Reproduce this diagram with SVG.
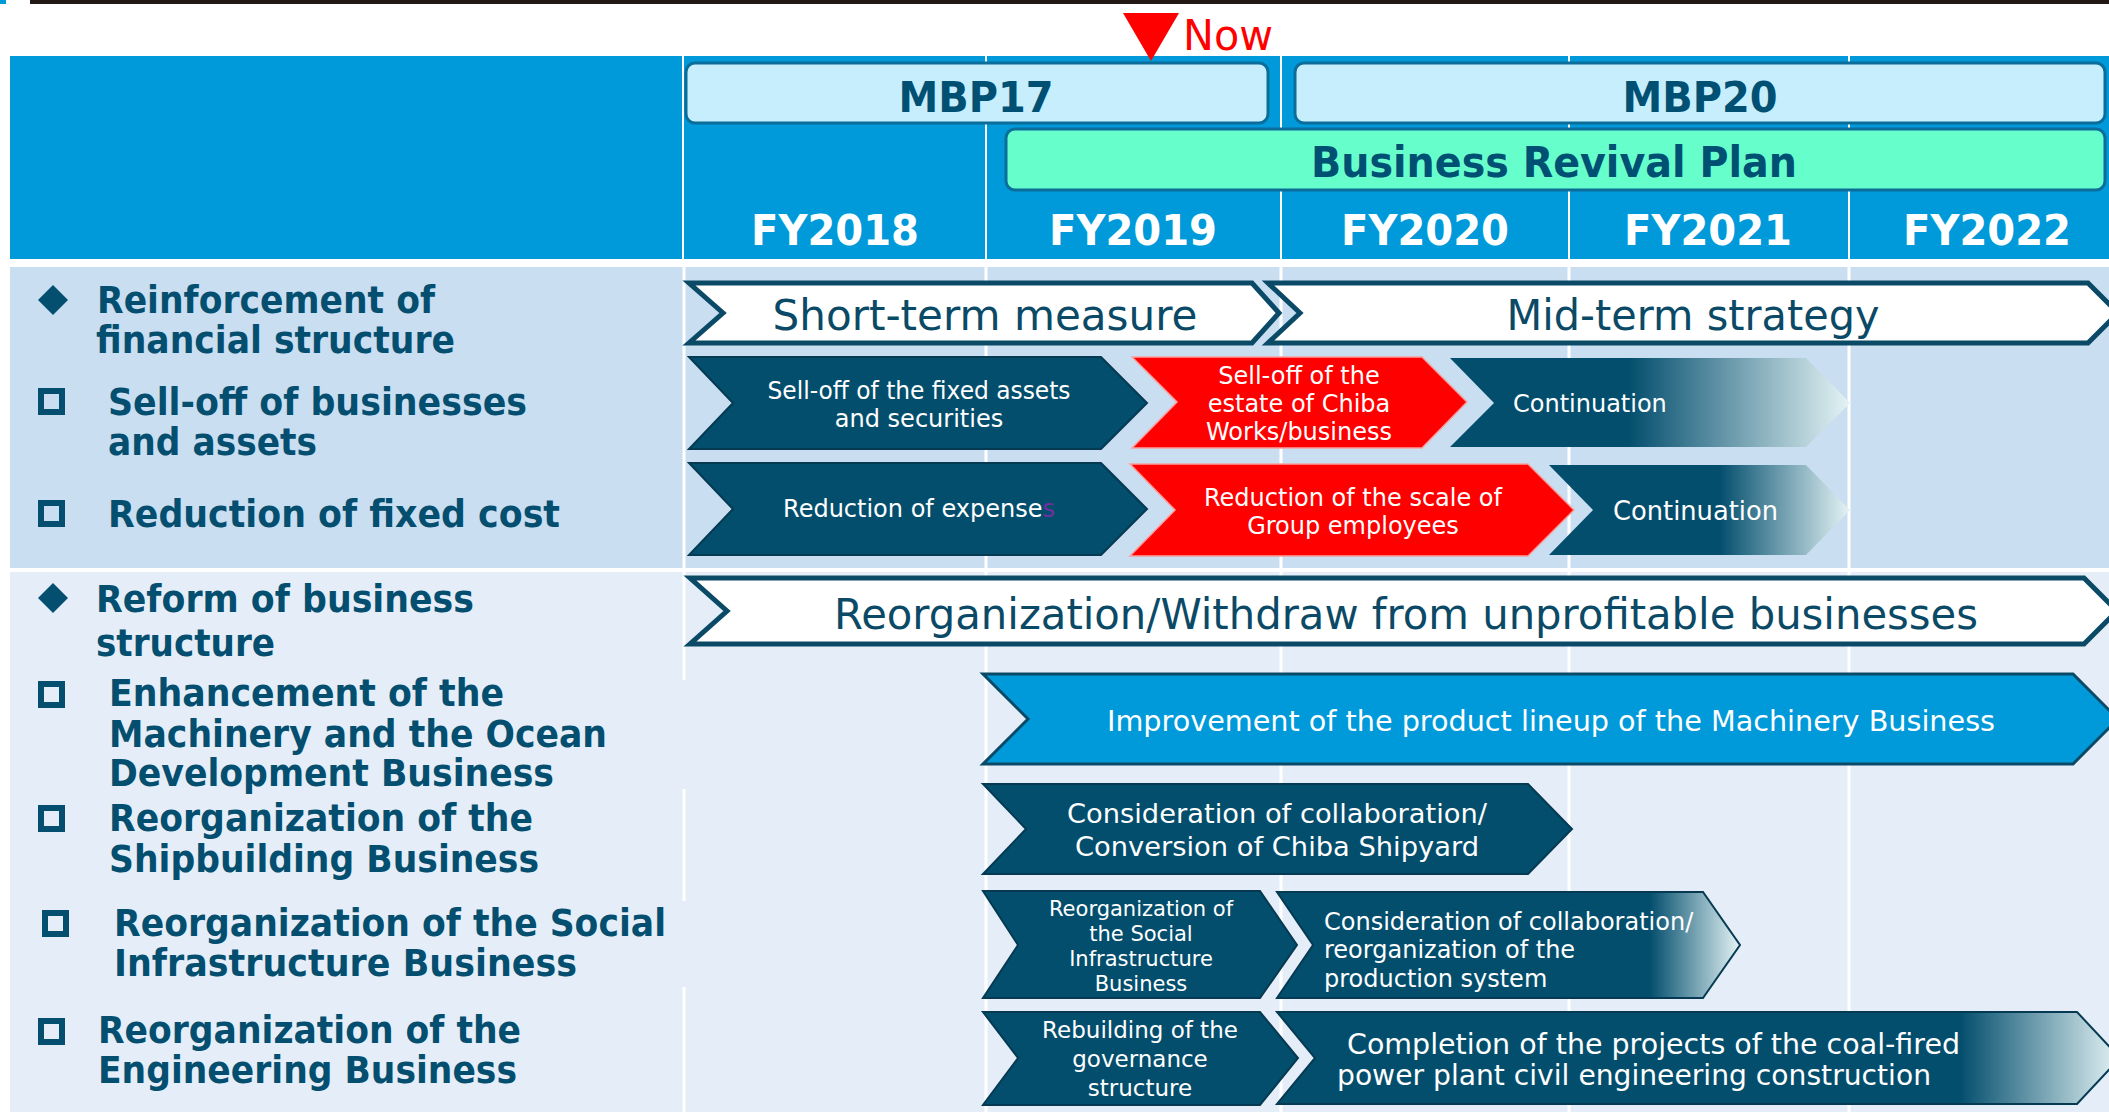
<svg xmlns="http://www.w3.org/2000/svg" width="2109" height="1112" viewBox="0 0 2109 1112">
<defs>
<style>
.hdr{font-family:"DejaVu Sans","Noto Sans",sans-serif;font-weight:bold;font-size:43px;text-anchor:middle}
.fy{fill:#ffffff}
.plan{fill:#005073}
.lbl{font-family:"DejaVu Sans","Noto Sans",sans-serif;font-weight:bold;font-size:37px;fill:#044f70}
.big{font-family:"DejaVu Sans","Noto Sans",sans-serif;font-size:42px;fill:#0b4a66;text-anchor:middle}
.wt{font-family:"DejaVu Sans","Noto Sans",sans-serif;fill:#ffffff}
.mid{text-anchor:middle}
.grid{stroke:#ffffff;stroke-width:3}
.hgrid{stroke:#ffffff;stroke-width:2}
.wchev{fill:#ffffff;stroke:#0b4a66;stroke-width:5;stroke-linejoin:miter}
.dchev{fill:#034e6d;stroke:#063a52;stroke-width:2}
.rchev{fill:#ff0000;stroke:#f7a0a0;stroke-width:1.5}
.bchev{fill:#009ada;stroke:#0b4a66;stroke-width:3}
.box{stroke:#0b6d9a;stroke-width:3}
.sq{fill:none;stroke:#044f70;stroke-width:6}
.dia{fill:#044f70}
</style>
<linearGradient id="gC1" gradientUnits="userSpaceOnUse" x1="1450" y1="0" x2="1850" y2="0">
<stop offset="0.445" stop-color="#034e6d"/><stop offset="1" stop-color="#e4f3f5"/></linearGradient>
<linearGradient id="gC2" gradientUnits="userSpaceOnUse" x1="1549" y1="0" x2="1850" y2="0">
<stop offset="0.565" stop-color="#034e6d"/><stop offset="1" stop-color="#e4f3f5"/></linearGradient>
<linearGradient id="gP" gradientUnits="userSpaceOnUse" x1="1277" y1="0" x2="1740" y2="0">
<stop offset="0.805" stop-color="#034e6d"/><stop offset="1" stop-color="#e4f3f5"/></linearGradient>
<linearGradient id="gE" gradientUnits="userSpaceOnUse" x1="1277" y1="0" x2="2120" y2="0">
<stop offset="0.81" stop-color="#034e6d"/><stop offset="1" stop-color="#e4f3f5"/></linearGradient>
</defs>

<rect x="0" y="0" width="2109" height="1112" fill="#ffffff"/>
<!-- top rule -->
<rect x="30" y="0" width="2079" height="4" fill="#231815"/>
<rect x="0" y="0" width="6" height="4" fill="#009ada"/>

<!-- header band -->
<g id="header">
<rect x="10" y="56" width="2099" height="203" fill="#009ada"/>
<line class="hgrid" x1="683" y1="56" x2="683" y2="259"/>
<line class="hgrid" x1="986" y1="56" x2="986" y2="259"/>
<line class="hgrid" x1="1281" y1="56" x2="1281" y2="259"/>
<line class="hgrid" x1="1569" y1="56" x2="1569" y2="259"/>
<line class="hgrid" x1="1849" y1="56" x2="1849" y2="259"/>
</g>

<g id="mbp17">
<rect class="box" x="686" y="63" width="582" height="60" rx="9" fill="#c6eefd"/>
<text class="hdr plan" x="976" y="112" textLength="155" lengthAdjust="spacingAndGlyphs">MBP17</text>
</g>
<g id="mbp20">
<rect class="box" x="1295" y="63" width="810" height="60" rx="9" fill="#c6eefd"/>
<text class="hdr plan" x="1700" y="112" textLength="155" lengthAdjust="spacingAndGlyphs">MBP20</text>
</g>
<g id="business-revival-plan">
<rect class="box" x="1006" y="129" width="1099" height="61" rx="9" fill="#66ffcc"/>
<text class="hdr plan" x="1554" y="177" textLength="486" lengthAdjust="spacingAndGlyphs">Business Revival Plan</text>
</g>

<g id="now-marker">
<polygon points="1123,13 1179,13 1151,61" fill="#ff0000"/>
<text x="1183" y="50" font-family="DejaVu Sans, Noto Sans, sans-serif" font-size="43" fill="#ff0000" textLength="90" lengthAdjust="spacingAndGlyphs">Now</text>
</g>

<g id="years">
<text class="hdr fy" x="835" y="245" textLength="168" lengthAdjust="spacingAndGlyphs">FY2018</text>
<text class="hdr fy" x="1133" y="245" textLength="168" lengthAdjust="spacingAndGlyphs">FY2019</text>
<text class="hdr fy" x="1425" y="245" textLength="168" lengthAdjust="spacingAndGlyphs">FY2020</text>
<text class="hdr fy" x="1708" y="245" textLength="168" lengthAdjust="spacingAndGlyphs">FY2021</text>
<text class="hdr fy" x="1987" y="245" textLength="168" lengthAdjust="spacingAndGlyphs">FY2022</text>
</g>

<!-- row backgrounds -->
<g id="rows">
<rect x="10" y="267" width="2099" height="301" fill="#cadef2"/>
<rect x="10" y="572" width="2099" height="540" fill="#e5eef8"/>
<line class="grid" x1="684" y1="267" x2="684" y2="568"/>
<line class="grid" x1="986" y1="267" x2="986" y2="568"/>
<line class="grid" x1="1281" y1="267" x2="1281" y2="568"/>
<line class="grid" x1="1569" y1="267" x2="1569" y2="568"/>
<line class="grid" x1="1849" y1="267" x2="1849" y2="568"/>
<line class="grid" x1="684" y1="572" x2="684" y2="680"/>
<line class="grid" x1="684" y1="789" x2="684" y2="901"/>
<line class="grid" x1="684" y1="987" x2="684" y2="1112"/>
<line class="grid" x1="986" y1="572" x2="986" y2="1112"/>
<line class="grid" x1="1281" y1="572" x2="1281" y2="1112"/>
<line class="grid" x1="1569" y1="572" x2="1569" y2="1112"/>
<line class="grid" x1="1849" y1="572" x2="1849" y2="1112"/>
</g>

<!-- left labels -->
<g id="label-financial">
<polygon class="dia" points="53,285 68,300 53,315 38,300"/>
<text class="lbl" x="97" y="313" textLength="338" lengthAdjust="spacingAndGlyphs">Reinforcement of</text>
<text class="lbl" x="96" y="353" textLength="359" lengthAdjust="spacingAndGlyphs">financial structure</text>
</g>
<g id="label-selloff">
<rect class="sq" x="41" y="391" width="21" height="21"/>
<text class="lbl" x="108" y="415" textLength="419" lengthAdjust="spacingAndGlyphs">Sell-off of businesses</text>
<text class="lbl" x="108" y="455" textLength="209" lengthAdjust="spacingAndGlyphs">and assets</text>
</g>
<g id="label-fixedcost">
<rect class="sq" x="41" y="503" width="21" height="21"/>
<text class="lbl" x="108" y="527" textLength="452" lengthAdjust="spacingAndGlyphs">Reduction of fixed cost</text>
</g>
<g id="label-reform">
<polygon class="dia" points="53,583 68,598 53,613 38,598"/>
<text class="lbl" x="96" y="612" textLength="378" lengthAdjust="spacingAndGlyphs">Reform of business</text>
<text class="lbl" x="96" y="656" textLength="179" lengthAdjust="spacingAndGlyphs">structure</text>
</g>
<g id="label-machinery">
<rect class="sq" x="41" y="684" width="21" height="21"/>
<text class="lbl" x="109" y="706" textLength="395" lengthAdjust="spacingAndGlyphs">Enhancement of the</text>
<text class="lbl" x="109" y="747" textLength="498" lengthAdjust="spacingAndGlyphs">Machinery and the Ocean</text>
<text class="lbl" x="109" y="786" textLength="445" lengthAdjust="spacingAndGlyphs">Development Business</text>
</g>
<g id="label-shipbuilding">
<rect class="sq" x="41" y="808" width="21" height="21"/>
<text class="lbl" x="109" y="831" textLength="424" lengthAdjust="spacingAndGlyphs">Reorganization of the</text>
<text class="lbl" x="109" y="872" textLength="430" lengthAdjust="spacingAndGlyphs">Shipbuilding Business</text>
</g>
<g id="label-social">
<rect class="sq" x="45" y="913" width="21" height="21"/>
<text class="lbl" x="114" y="936" textLength="552" lengthAdjust="spacingAndGlyphs">Reorganization of the Social</text>
<text class="lbl" x="114" y="976" textLength="463" lengthAdjust="spacingAndGlyphs">Infrastructure Business</text>
</g>
<g id="label-engineering">
<rect class="sq" x="41" y="1021" width="21" height="21"/>
<text class="lbl" x="98" y="1043" textLength="423" lengthAdjust="spacingAndGlyphs">Reorganization of the</text>
<text class="lbl" x="98" y="1083" textLength="419" lengthAdjust="spacingAndGlyphs">Engineering Business</text>
</g>

<!-- row 1 chevrons -->
<g id="short-term">
<polygon class="wchev" points="689,283 1252,283 1279,313 1252,343 689,343 723,313"/>
<text class="big" x="985" y="330" textLength="425" lengthAdjust="spacingAndGlyphs">Short-term measure</text>
</g>
<g id="mid-term">
<polygon class="wchev" points="1268,283 2088,283 2118,313 2088,343 1268,343 1300,313"/>
<text class="big" x="1693" y="330" textLength="373" lengthAdjust="spacingAndGlyphs">Mid-term strategy</text>
</g>
<g id="selloff-fixed">
<polygon class="dchev" points="689,357 1101,357 1147,403 1101,449 689,449 733,403"/>
<text class="wt mid" x="919" y="399" font-size="24" textLength="303" lengthAdjust="spacingAndGlyphs">Sell-off of the fixed assets</text>
<text class="wt mid" x="919" y="427" font-size="24">and securities</text>
</g>
<g id="selloff-chiba">
<polygon class="rchev" points="1132,357 1422,357 1467,402 1422,448 1132,448 1177,402"/>
<text class="wt mid" x="1299" y="384" font-size="24">Sell-off of the</text>
<text class="wt mid" x="1299" y="412" font-size="24">estate of Chiba</text>
<text class="wt mid" x="1299" y="440" font-size="24">Works/business</text>
</g>
<g id="continuation-1">
<polygon points="1450,358 1806,358 1850,403 1806,447 1450,447 1494,403" fill="url(#gC1)"/>
<text class="wt" x="1513" y="412" font-size="24">Continuation</text>
</g>
<g id="reduction-expenses">
<polygon class="dchev" points="689,463 1101,463 1147,509 1101,555 689,555 733,509"/>
<text class="wt mid" x="919" y="517" font-size="24">Reduction of expense<tspan fill="#7030a0">s</tspan></text>
</g>
<g id="reduction-employees">
<polygon class="rchev" points="1130,464 1528,464 1574,510 1528,556 1130,556 1175,510"/>
<text class="wt mid" x="1353" y="506" font-size="24">Reduction of the scale of</text>
<text class="wt mid" x="1353" y="534" font-size="24">Group employees</text>
</g>
<g id="continuation-2">
<polygon points="1549,465 1806,465 1850,510 1806,555 1549,555 1593,510" fill="url(#gC2)"/>
<text class="wt" x="1613" y="520" font-size="26" textLength="165" lengthAdjust="spacingAndGlyphs">Continuation</text>
</g>

<!-- row 2 chevrons -->
<g id="reorg-withdraw">
<polygon class="wchev" points="690,578 2084,578 2117,611 2084,644 690,644 727,611"/>
<text class="big" x="1406" y="629" textLength="1144" lengthAdjust="spacingAndGlyphs">Reorganization/Withdraw from unprofitable businesses</text>
</g>
<g id="machinery-lineup">
<polygon class="bchev" points="983,674 2073,674 2118,719 2073,764 983,764 1028,719"/>
<text class="wt mid" x="1551" y="731" font-size="28" textLength="888" lengthAdjust="spacingAndGlyphs">Improvement of the product lineup of the Machinery Business</text>
</g>
<g id="chiba-shipyard">
<polygon class="dchev" points="983,784 1528,784 1572,829 1528,874 983,874 1026,829"/>
<text class="wt mid" x="1277" y="823" font-size="27" textLength="420" lengthAdjust="spacingAndGlyphs">Consideration of collaboration/</text>
<text class="wt mid" x="1277" y="856" font-size="27" textLength="404" lengthAdjust="spacingAndGlyphs">Conversion of Chiba Shipyard</text>
</g>
<g id="social-reorg">
<polygon class="dchev" points="983,891 1260,891 1297,945 1260,998 983,998 1018,945"/>
<text class="wt mid" x="1141" y="916" font-size="21">Reorganization of</text>
<text class="wt mid" x="1141" y="941" font-size="21">the Social</text>
<text class="wt mid" x="1141" y="966" font-size="21">Infrastructure</text>
<text class="wt mid" x="1141" y="991" font-size="21">Business</text>
</g>
<g id="production-system">
<polygon points="1277,892 1703,892 1740,945 1703,998 1277,998 1313,945" fill="url(#gP)" stroke="#063a52" stroke-width="2"/>
<text class="wt" x="1324" y="930" font-size="24">Consideration of collaboration/</text>
<text class="wt" x="1324" y="958" font-size="24">reorganization of the</text>
<text class="wt" x="1324" y="987" font-size="24">production system</text>
</g>
<g id="governance">
<polygon class="dchev" points="983,1012 1260,1012 1298,1058 1260,1105 983,1105 1018,1058"/>
<text class="wt mid" x="1140" y="1038" font-size="23">Rebuilding of the</text>
<text class="wt mid" x="1140" y="1067" font-size="23">governance</text>
<text class="wt mid" x="1140" y="1096" font-size="23">structure</text>
</g>
<g id="coal-fired">
<polygon points="1277,1012 2077,1012 2120,1058 2077,1104 1277,1104 1315,1058" fill="url(#gE)" stroke="#063a52" stroke-width="2"/>
<text class="wt" x="1347" y="1054" font-size="28" textLength="613" lengthAdjust="spacingAndGlyphs">Completion of the projects of the coal-fired</text>
<text class="wt" x="1337" y="1085" font-size="28" textLength="594" lengthAdjust="spacingAndGlyphs">power plant civil engineering construction</text>
</g>
</svg>
